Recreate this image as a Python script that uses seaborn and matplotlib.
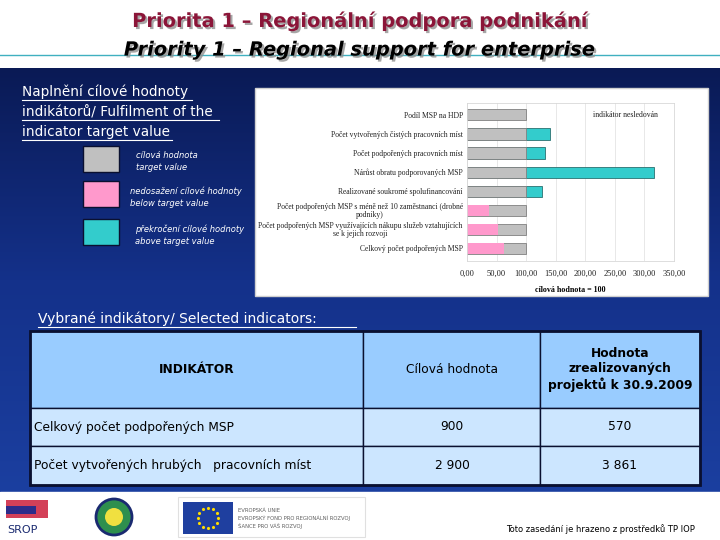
import numpy as np
import pandas as pd
import matplotlib
matplotlib.use("Agg")
import matplotlib.pyplot as plt
import matplotlib.patheffects as pe
import seaborn as sns
from matplotlib.patches import Rectangle, Circle
from matplotlib.colors import LinearSegmentedColormap

# ---------------- data ----------------
categories = [
    "Podíl MSP na HDP",
    "Počet vytvořených čistých pracovních míst",
    "Počet podpořených pracovních míst",
    "Nárůst obratu podporovaných MSP",
    "Realizované soukromé spolufinancování",
    "Počet podpořených MSP s méně než 10 zaměstnanci (drobné\npodniky)",
    "Počet podpořených MSP využívajících nákupu služeb vztahujících\nse k jejich rozvoji",
    "Celkový počet podpořených MSP",
]
target_pct = [100, 100, 100, 100, 100, 100, 100, 100]
achieved_pct = [100, 140, 132, 316, 126, 36.5, 53, 63.3]
x_ticks = [0, 50, 100, 150, 200, 250, 300, 350]
x_tick_labels = ["0,00", "50,00", "100,00", "150,00", "200,00", "250,00", "300,00", "350,00"]

table_header = ["INDIKÁTOR", "Cílová hodnota", "Hodnota\nzrealizovaných\nprojektů k 30.9.2009"]
table_indicators = ["Celkový počet podpořených MSP", "Počet vytvořených hrubých   pracovních míst"]
table_target = ["900", "2 900"]
table_achieved = ["570", "3 861"]

GRAY = "#c0c0c0"
PINK = "#ff99cc"
TEAL = "#33cccc"

df = pd.DataFrame({"cat": categories, "target": target_pct, "ach": achieved_pct})
df["over"] = np.where(df["ach"] > df["target"], df["ach"], 0)
df["under"] = np.where(df["ach"] < df["target"], df["ach"], 0)

W, H = 720, 540
fig = plt.figure(figsize=(7.2, 5.4), dpi=100)

# ---------------- background axes (pixel coords) ----------------
bg = fig.add_axes([0, 0, 1, 1])
bg.set_xlim(0, W)
bg.set_ylim(H, 0)
bg.axis("off")
bg.add_patch(Rectangle((0, 0), W, 68, color="white", zorder=0))
grad = np.linspace(0, 1, 256)[:, None]
cmap = LinearSegmentedColormap.from_list("bgblue", ["#0a1a55", "#14318a", "#1b3fa0"])
bg.imshow(grad, cmap=cmap, extent=(0, W, 492, 68), aspect="auto", zorder=0)
bg.add_patch(Rectangle((0, 492), W, 48, color="white", zorder=1))
bg.plot([0, W], [55, 55], color="#40b0c0", lw=1, zorder=2)

shadow = [pe.withSimplePatchShadow(offset=(1.5, -1.5), shadow_rgbFace="#909090", alpha=0.8)]
# titles
bg.text(360, 21, "Priorita 1 – Regionální podpora podnikání", ha="center", va="center",
        fontsize=14, fontweight="bold", color="#8b1538", zorder=4, path_effects=shadow)
bg.text(360, 50, "Priority 1 – Regional support for enterprise", ha="center", va="center",
        fontsize=14, fontweight="bold", style="italic", color="black", zorder=4, path_effects=shadow)

# left description
for i, line in enumerate(["Naplnění cílové hodnoty", "indikátorů/ Fulfilment of the", "indicator target value"]):
    bg.text(22, 92 + i * 20, line, ha="left", va="center", fontsize=9.8, color="white", zorder=3)
for y, x2 in [(100, 192), (120, 219), (140, 172)]:
    bg.plot([22, x2], [y, y], color="white", lw=0.8, zorder=3)

# legend boxes
for (y0, col, l1, l2, tx) in [
    (146, GRAY, "cílová hodnota", "target value", 136),
    (181, PINK, "nedosažení cílové hodnoty", "below target value", 130),
    (219, TEAL, "překročení cílové hodnoty", "above target value", 135),
]:
    bg.add_patch(Rectangle((83, y0), 36, 26, facecolor=col, edgecolor="#0a1030", lw=1, zorder=3))
    bg.text(tx, y0 + 10, l1, fontsize=6, style="italic", color="white", va="center", zorder=3)
    bg.text(tx, y0 + 22, l2, fontsize=6, style="italic", color="white", va="center", zorder=3)

# chart panel
bg.add_patch(Rectangle((255, 88), 453, 208, facecolor="white", edgecolor="#d0d0d0", lw=1, zorder=2))

# section title
bg.text(38, 319, "Vybrané indikátory/ Selected indicators:", fontsize=10, color="white", va="center", zorder=3)
bg.plot([38, 356], [327, 327], color="white", lw=0.8, zorder=3)

# table
cols = [30, 363, 540, 700]
rows = [331, 408, 446, 485]
for r in range(3):
    fc = "#99ccff" if r == 0 else "#cce6ff"
    for c in range(3):
        bg.add_patch(Rectangle((cols[c], rows[r]), cols[c + 1] - cols[c], rows[r + 1] - rows[r],
                               facecolor=fc, edgecolor="#0a1030", lw=1, zorder=3))
bg.add_patch(Rectangle((30, 331), 670, 154, facecolor="none", edgecolor="#0a1030", lw=2, zorder=4))
hc = [197, 452, 620]
for c in range(3):
    bg.text(hc[c], 369.5, table_header[c], ha="center", va="center", fontsize=8.8,
            fontweight="bold" if c != 1 else "normal", color="black", zorder=5, linespacing=1.25)
for r in range(2):
    yc = (rows[r + 1] + rows[r + 2]) / 2
    bg.text(34, yc, table_indicators[r], ha="left", va="center", fontsize=8.8, zorder=5)
    bg.text(452, yc, table_target[r], ha="center", va="center", fontsize=8.8, zorder=5)
    bg.text(620, yc, table_achieved[r], ha="center", va="center", fontsize=8.8, zorder=5)

# footer logos (simplified)
bg.add_patch(Rectangle((178, 497), 187, 40, facecolor="white", edgecolor="#e0e0e0", lw=0.8, zorder=2))
bg.add_patch(Rectangle((183, 502), 50, 32, facecolor="#1f3f9f", zorder=3))
ang = np.linspace(0, 2 * np.pi, 13)[:-1]
bg.scatter(208 + 10 * np.cos(ang), 518 + 10 * np.sin(ang), s=2, color="#ffdd00", zorder=4, marker="*")
for i, l in enumerate(["EVROPSKÁ UNIE", "EVROPSKÝ FOND PRO REGIONÁLNÍ ROZVOJ", "ŠANCE PRO VÁŠ ROZVOJ"]):
    bg.text(238, 510 + i * 8, l, fontsize=3.8, color="#606060", va="center", zorder=3)
bg.add_patch(Rectangle((6, 500), 42, 18, facecolor="#c8102e", zorder=3, alpha=0.8))
bg.add_patch(Rectangle((6, 506), 30, 8, facecolor="#1a2a90", zorder=3, alpha=0.9))
bg.text(22, 530, "SROP", fontsize=8, color="#1a2a70", va="center", ha="center", zorder=3)
bg.add_patch(Circle((114, 517), 18, facecolor="#2e8f4e", edgecolor="#1a2a70", lw=2, zorder=3))
bg.add_patch(Circle((114, 517), 9, facecolor="#f0e040", zorder=4))
bg.text(600, 529, "Toto zasedání je hrazeno z prostředků TP IOP", ha="center", va="center",
        fontsize=6, color="black", zorder=3)

# ---------------- bar chart ----------------
x0, x350 = 467, 674
ytop, ybot = 103, 261
ax = fig.add_axes([x0 / W, 1 - ybot / H, (x350 - x0) / W, (ybot - ytop) / H])
ax.set_facecolor("white")
sns.barplot(data=df, y="cat", x="over", orient="h", color=TEAL, width=0.58,
            edgecolor="#2a7070", linewidth=0.6, ax=ax, saturation=1)
sns.barplot(data=df, y="cat", x="target", orient="h", color=GRAY, width=0.58,
            edgecolor="#808080", linewidth=0.6, ax=ax, saturation=1)
sns.barplot(data=df, y="cat", x="under", orient="h", color=PINK, width=0.58,
            linewidth=0, ax=ax, saturation=1)
ax.set_xlim(0, 350)
ax.set_ylim(7.68, -0.63)
ax.set_xticks(x_ticks)
ax.set_xticklabels(x_tick_labels, fontsize=6, fontfamily="Liberation Serif", color="#202020")
ax.tick_params(axis="both", length=0, pad=6)
ax.set_yticks(range(len(categories)))
ax.set_yticklabels(categories, fontsize=5.5, fontfamily="Liberation Serif", color="#202020",
                   multialignment="center", linespacing=1.0)
ax.tick_params(axis="y", pad=3)
ax.set_ylabel("")
ax.set_xlabel("cílová hodnota = 100", fontsize=5.8, fontweight="bold",
              fontfamily="Liberation Serif", labelpad=6)
ax.grid(axis="x", color="#e4e4e4", lw=0.6)
ax.set_axisbelow(True)
for s in ax.spines.values():
    s.set_color("#d8d8d8")
    s.set_linewidth(0.6)
ax.text(268, 0, "indikátor nesledován", fontsize=5.6, fontfamily="Liberation Serif",
        va="center", ha="center", color="#202020")

fig.savefig("out.png", dpi=100)
